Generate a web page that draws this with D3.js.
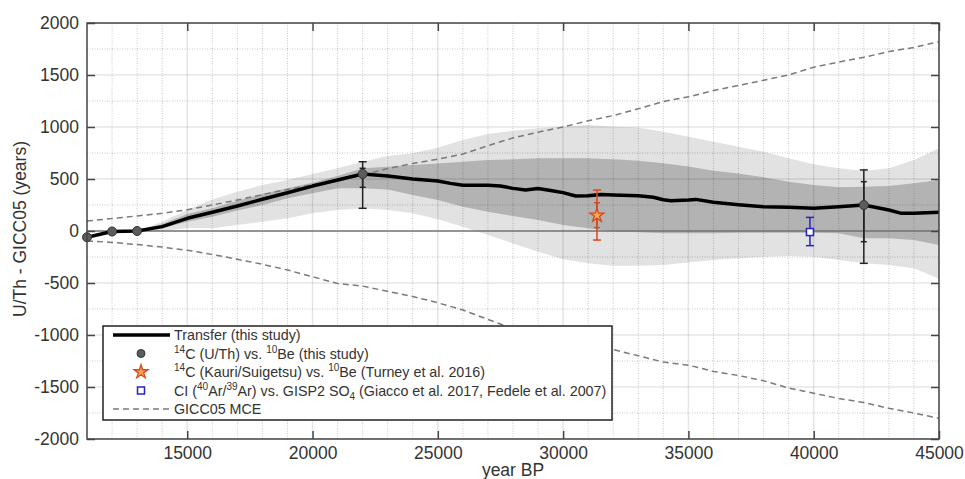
<!DOCTYPE html>
<html>
<head>
<meta charset="utf-8">
<script src="https://cdn.jsdelivr.net/npm/d3@7"></script>
<style>
  body { margin: 0; background: #fff; }
  svg text { font-family: "Liberation Sans", Helvetica, Arial, sans-serif; fill: #333; }
</style>
</head>
<body>
<div id="chart"></div>
<script>
// chart data
var transferYears = [11000, 12000, 13000, 14000, 15000, 16000, 17000, 18000, 19000, 20000, 21000, 22000,
                     23000, 24000, 25000, 25500, 26000, 27000, 27500, 28000, 28500, 29000, 29500, 30000,
                     30500, 31000, 31500, 32000, 33000, 33600, 34000, 34300, 35000, 35300, 36000, 37000,
                     38000, 39000, 40000, 41000, 42000, 43000, 43500, 44000, 45000];
var transferVals  = [-60, -5, 0, 42, 122, 180, 240, 305, 368, 432, 490, 548,
                     529, 500, 481, 458, 439, 439, 432, 410, 394, 408, 390, 369,
                     337, 338, 352, 346, 338, 325, 300, 290, 298, 304, 276, 253,
                     234, 228, 218, 234, 250, 202, 170, 170, 180];

// uncertainty envelopes (2 sigma light, 1 sigma dark)
var bandYears   = [13000, 14000, 15000, 16000, 17000, 18000, 19000, 20000, 21000, 22000, 23000, 24000,
                   25000, 26000, 27000, 28000, 29000, 30000, 31000, 32000, 33000, 34000, 35000, 36000,
                   37000, 38000, 39000, 40000, 41000, 42000, 43000, 44000, 45000];
var lightUpper  = [0, 90, 202, 304, 378, 442, 490, 548, 603, 667, 721, 747,
                   801, 875, 933, 965, 987, 1003, 1019, 1003, 994, 955, 907, 859,
                   811, 763, 699, 641, 603, 577, 603, 683, 795];
var darkUpper   = [0, 67, 163, 218, 292, 356, 410, 465, 529, 603, 618, 635,
                   650, 667, 683, 689, 699, 699, 699, 689, 676, 651, 619, 580,
                   554, 516, 474, 442, 420, 426, 433, 458, 490];
var darkLower   = [0, 26, 90, 138, 196, 250, 314, 362, 410, 410, 400, 346,
                   298, 234, 186, 144, 106, 58, 26, -6, -13, -22, -22, -22,
                   -16, -16, -16, -16, -22, -70, -70, -87, -135];
var lightLower  = [0, 3, 26, 26, 58, 90, 122, 170, 202, 218, 202, 170,
                   112, 42, -38, -119, -199, -272, -311, -333, -333, -327, -304, -279,
                   -263, -247, -240, -247, -279, -311, -327, -359, -460];

// GICC05 maximum counting error
var mceYears = [11000, 12000, 13000, 14000, 15000, 16000, 17000, 18000, 19000, 20000, 21000, 22000,
                23000, 24000, 25000, 26000, 27000, 28000, 29000, 30000, 31000, 32000, 33000, 34000,
                35000, 36000, 37000, 38000, 39000, 40000, 41000, 42000, 43000, 44000, 45000];
var mceUpper = [95, 120, 145, 170, 205, 250, 298, 350, 400, 445, 490, 540,
                600, 650, 690, 740, 820, 895, 950, 1000, 1060, 1110, 1175, 1245,
                1290, 1350, 1400, 1450, 1500, 1575, 1625, 1670, 1725, 1765, 1820];
var mceLower = [-95, -110, -130, -155, -185, -225, -272, -320, -375, -440, -505, -530,
                -580, -630, -690, -760, -850, -940, -1010, -1060, -1100, -1140, -1200, -1260,
                -1290, -1350, -1390, -1440, -1510, -1560, -1610, -1650, -1705, -1750, -1800];

// tie points: 14C (U/Th) vs 10Be
var uthYears = [11000, 12000, 13000, 22000, 42000];
var uthVals  = [-60, -5, 0, 548, 250];
var uthHi2   = [null, null, null, 666, 587];
var uthLo2   = [null, null, null, 218, -311];
var uthHi1   = [null, null, null, 603, 474];
var uthLo1   = [null, null, null, 420, -103];

// 14C (Kauri/Suigetsu) vs 10Be
var kauriYear = 31350, kauriVal = 150, kauriHi2 = 394, kauriLo2 = -87, kauriHi1 = 272, kauriLo1 = 32;
// CI vs GISP2 SO4
var ciYear = 39850, ciVal = -10, ciHi = 131, ciLo = -141;

var xTicks = [15000, 20000, 25000, 30000, 35000, 40000, 45000];
var yTicks = [-2000, -1500, -1000, -500, 0, 500, 1000, 1500, 2000];

var W = 965, H = 479;
var svg = d3.select("#chart").append("svg").attr("width", W).attr("height", H);

var x = d3.scaleLinear().domain([11000, 45000]).range([87, 939]);
var y = d3.scaleLinear().domain([-2000, 2000]).range([439, 23]);

svg.append("defs").append("clipPath").attr("id", "plotclip")
   .append("rect").attr("x", 87).attr("y", 23).attr("width", 852).attr("height", 416);

var plot = svg.append("g").attr("clip-path", "url(#plotclip)");

// bands
var bandData = bandYears.map(function(yr, i){
    return {yr: yr, lu: lightUpper[i], du: darkUpper[i], dl: darkLower[i], ll: lightLower[i]};
});
plot.append("path").datum(bandData)
    .attr("fill", "#e2e2e2")
    .attr("d", d3.area().x(d => x(d.yr)).y0(d => y(d.ll)).y1(d => y(d.lu)));
plot.append("path").datum(bandData)
    .attr("fill", "#b3b3b3")
    .attr("d", d3.area().x(d => x(d.yr)).y0(d => y(d.dl)).y1(d => y(d.du)));

// grid (drawn over the bands, like matlab's top layer)
var minorX = d3.range(12000, 45000, 1000).filter(v => v % 5000 != 0);
var minorY = d3.range(-1750, 2000, 500);
var grid = plot.append("g");
grid.selectAll(".mx").data(minorX).enter().append("line")
    .attr("x1", d => x(d)).attr("x2", d => x(d)).attr("y1", 23).attr("y2", 439)
    .attr("stroke", "#000").attr("stroke-opacity", 0.22).attr("stroke-dasharray", "1,1.5");
grid.selectAll(".my").data(minorY).enter().append("line")
    .attr("y1", d => y(d)).attr("y2", d => y(d)).attr("x1", 87).attr("x2", 939)
    .attr("stroke", "#000").attr("stroke-opacity", 0.22).attr("stroke-dasharray", "1,1.5");
grid.selectAll(".Mx").data(xTicks).enter().append("line")
    .attr("x1", d => x(d)).attr("x2", d => x(d)).attr("y1", 23).attr("y2", 439)
    .attr("stroke", "#000").attr("stroke-opacity", 0.1).attr("stroke-width", 1.5);
grid.selectAll(".My").data(yTicks.filter(v => v != 0)).enter().append("line")
    .attr("y1", d => y(d)).attr("y2", d => y(d)).attr("x1", 87).attr("x2", 939)
    .attr("stroke", "#000").attr("stroke-opacity", 0.1).attr("stroke-width", 1.5);

// zero line
plot.append("line").attr("x1", 87).attr("x2", 939).attr("y1", y(0)).attr("y2", y(0))
    .attr("stroke", "#707070").attr("stroke-width", 1.5);

// MCE dashed
var mceLine = d3.line().x(d => x(d[0])).y(d => y(d[1]));
[mceUpper, mceLower].forEach(function(arr){
    plot.append("path").datum(mceYears.map((yr, i) => [yr, arr[i]]))
        .attr("fill", "none").attr("stroke", "#7a7a7a").attr("stroke-width", 1.5)
        .attr("stroke-dasharray", "6,4").attr("d", mceLine);
});

// transfer
plot.append("path").datum(transferYears.map((yr, i) => [yr, transferVals[i]]))
    .attr("fill", "none").attr("stroke", "#000").attr("stroke-width", 3.5)
    .attr("stroke-linejoin", "round").attr("d", mceLine);

function errorBar(g, yr, hi, lo, color, capW){
    g.append("line").attr("x1", x(yr)).attr("x2", x(yr)).attr("y1", y(hi)).attr("y2", y(lo))
     .attr("stroke", color).attr("stroke-width", 1.5);
    [hi, lo].forEach(function(v){
        g.append("line").attr("x1", x(yr) - capW/2).attr("x2", x(yr) + capW/2)
         .attr("y1", y(v)).attr("y2", y(v)).attr("stroke", color).attr("stroke-width", 1.5);
    });
}

var marks = svg.append("g");
uthYears.forEach(function(yr, i){
    if (uthHi2[i] != null) {
        errorBar(marks, yr, uthHi2[i], uthLo2[i], "#222", 8);
        errorBar(marks, yr, uthHi1[i], uthLo1[i], "#222", 6);
    }
});
marks.selectAll(".uth").data(uthYears).enter().append("circle")
    .attr("cx", d => x(d)).attr("cy", (d, i) => y(uthVals[i])).attr("r", 4.5)
    .attr("fill", "#5c5c5c").attr("stroke", "#333").attr("stroke-width", 1);

var starPath = d3.symbol().type(d3.symbolStar).size(60)();
errorBar(marks, kauriYear, kauriHi2, kauriLo2, "#d8491e", 8);
errorBar(marks, kauriYear, kauriHi1, kauriLo1, "#d8491e", 6);
marks.append("path").attr("d", starPath)
    .attr("transform", "translate(" + x(kauriYear) + "," + y(kauriVal) + ")")
    .attr("fill", "#f5a25a").attr("stroke", "#d8491e").attr("stroke-width", 1.3);

errorBar(marks, ciYear, ciHi, ciLo, "#2323c8", 8);
marks.append("rect").attr("x", x(ciYear) - 3.5).attr("y", y(ciVal) - 3.5)
    .attr("width", 7).attr("height", 7)
    .attr("fill", "#fff").attr("stroke", "#2323c8").attr("stroke-width", 1.5);

// axes, ticks inside
var axStroke = "#444";
var fmt = d => String(d);   // plain hyphen minus, no thousands comma
var gL = svg.append("g").attr("transform", "translate(87,0)")
    .call(d3.axisLeft(y).tickValues(yTicks).tickSize(-8).tickPadding(8).tickFormat(fmt));
var gB = svg.append("g").attr("transform", "translate(0,439)")
    .call(d3.axisBottom(x).tickValues(xTicks).tickSize(-8).tickPadding(8).tickFormat(fmt));
var gR = svg.append("g").attr("transform", "translate(939,0)")
    .call(d3.axisRight(y).tickValues(yTicks).tickSize(-8).tickFormat(""));
var gT = svg.append("g").attr("transform", "translate(0,23)")
    .call(d3.axisTop(x).tickValues(xTicks).tickSize(-8).tickFormat(""));
[gL, gB, gR, gT].forEach(function(g){
    g.select(".domain").remove();
    g.selectAll(".tick line").attr("stroke", axStroke).attr("stroke-width", 1.5);
    g.selectAll("text").attr("font-size", 17.5).attr("font-family", null).attr("fill", "#333");
});
svg.append("rect").attr("x", 87).attr("y", 23).attr("width", 852).attr("height", 416)
    .attr("fill", "none").attr("stroke", axStroke).attr("stroke-width", 1.5);

svg.append("text").attr("transform", "translate(26,229) rotate(-90)")
    .attr("text-anchor", "middle").attr("font-size", 17.5).text("U/Th - GICC05 (years)");
svg.append("text").attr("x", 513).attr("y", 476)
    .attr("text-anchor", "middle").attr("font-size", 17.5).text("year BP");

// legend
var lg = svg.append("g");
lg.append("rect").attr("x", 103).attr("y", 326).attr("width", 509).attr("height", 94)
  .attr("fill", "#fff").attr("stroke", "#222").attr("stroke-width", 1.5);
var rowY = [335, 353.5, 372, 390.5, 409];
lg.append("line").attr("x1", 113).attr("x2", 170).attr("y1", rowY[0]).attr("y2", rowY[0])
  .attr("stroke", "#000").attr("stroke-width", 3.5);
lg.append("circle").attr("cx", 141).attr("cy", rowY[1]).attr("r", 4)
  .attr("fill", "#5c5c5c").attr("stroke", "#333");
lg.append("path").attr("d", starPath)
  .attr("transform", "translate(141," + rowY[2] + ")")
  .attr("fill", "#f5a25a").attr("stroke", "#d8491e").attr("stroke-width", 1.3);
lg.append("rect").attr("x", 137.5).attr("y", rowY[3] - 3.5).attr("width", 7).attr("height", 7)
  .attr("fill", "#fff").attr("stroke", "#2323c8").attr("stroke-width", 1.5);
lg.append("line").attr("x1", 113).attr("x2", 170).attr("y1", rowY[4]).attr("y2", rowY[4])
  .attr("stroke", "#7a7a7a").attr("stroke-width", 1.5).attr("stroke-dasharray", "6,4");

// each label: list of [text, kind] with kind "", "sup" or "sub"
var legendLabels = [
    [["Transfer (this study)", ""]],
    [["14", "sup"], ["C (U/Th) vs. ", ""], ["10", "sup"], ["Be (this study)", ""]],
    [["14", "sup"], ["C (Kauri/Suigetsu) vs. ", ""], ["10", "sup"], ["Be (Turney et al. 2016)", ""]],
    [["CI (", ""], ["40", "sup"], ["Ar/", ""], ["39", "sup"], ["Ar) vs. GISP2 SO", ""], ["4", "sub"],
     [" (Giacco et al. 2017, Fedele et al. 2007)", ""]],
    [["GICC05 MCE", ""]]
];
legendLabels.forEach(function(parts, i){
    var t = lg.append("text").attr("x", 174).attr("y", rowY[i] + 5).attr("font-size", 14.3);
    var shift = 0;
    parts.forEach(function(p){
        var want = p[1] == "sup" ? -6 : (p[1] == "sub" ? 4 : 0);
        var ts = t.append("tspan").text(p[0]).attr("dy", want - shift);
        if (p[1] != "") ts.attr("font-size", 10);
        shift = want;
    });
});
</script>
</body>
</html>
